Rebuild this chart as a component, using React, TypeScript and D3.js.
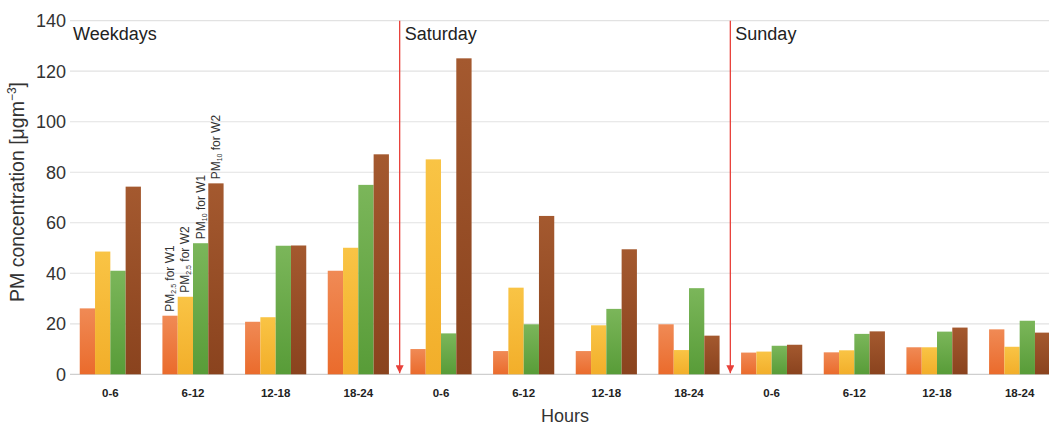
import * as d3 from 'd3'

// Hour ranges repeat for each day group
const hours = ['0-6', '6-12', '12-18', '18-24']
const days = ['Weekdays', 'Saturday', 'Sunday']

// Values per category (Weekdays 0-6 ... Sunday 18-24)
const pm25W1 = [26.1, 23.2, 20.8, 41.0, 10.0, 9.2, 9.2, 19.8, 8.6, 8.7, 10.7, 17.8]
const pm25W2 = [48.6, 30.7, 22.6, 50.1, 85.1, 34.3, 19.4, 9.6, 9.0, 9.5, 10.7, 10.9]
const pm10W1 = [41.0, 51.9, 50.9, 75.0, 16.2, 19.8, 25.9, 34.1, 11.3, 16.0, 16.9, 21.2]
const pm10W2 = [74.3, 75.6, 51.0, 87.1, 125.1, 62.7, 49.5, 15.3, 11.7, 17.0, 18.5, 16.5]

const seriesNames = ['PM2.5 for W1', 'PM2.5 for W2', 'PM10 for W1', 'PM10 for W2']
const seriesValues = [pm25W1, pm25W2, pm10W1, pm10W2]
const yTicks = [0, 20, 40, 60, 80, 100, 120, 140]

// top / bottom colours of each bar gradient
const seriesColors = [
  ['#f08a55', '#ea6b2c'],
  ['#f9c445', '#f2ae2a'],
  ['#7bb65a', '#589c38'],
  ['#a4592f', '#8a431e'],
]

const W = 1049
const H = 426
const margin = { top: 20.7, left: 69, right: -12, bottom: 51.7 }

export default function App() {
  const categories = d3.range(days.length * hours.length)
  const x = d3.scaleBand<number>()
    .domain(categories)
    .range([margin.left, W - margin.right])
    .paddingInner(0.26)
    .paddingOuter(0.13)
  const inner = d3.scaleBand<number>()
    .domain(d3.range(seriesNames.length))
    .range([0, x.bandwidth()])
  const y = d3.scaleLinear().domain([0, 140]).range([H - margin.bottom, margin.top])

  const step = x.step()
  const gap = step - x.bandwidth()
  // day separators sit in the gap after the last hour of a day
  const separators = [1, 2].map(d => x(d * hours.length - 1)! + x.bandwidth() + gap / 2)

  const font = '"Liberation Sans", Arial, sans-serif'
  const annotated = 1 // Weekdays 6-12 carries the series labels

  return (
    <svg width={W} height={H} style={{ position: 'absolute', left: 0, top: 0, background: '#fff' }} fontFamily={font}>
      <defs>
        {seriesColors.map((c, i) => (
          <linearGradient key={i} id={`grad${i}`} x1="0" y1="0" x2="0" y2="1">
            <stop offset="0%" stopColor={c[0]} />
            <stop offset="100%" stopColor={c[1]} />
          </linearGradient>
        ))}
        <marker id="arrow" viewBox="0 0 10 10" refX="10" refY="5" markerWidth="9" markerHeight="8" orient="auto" markerUnits="userSpaceOnUse">
          <path d="M0,0 L10,5 L0,10 Z" fill="#e8403a" />
        </marker>
      </defs>

      {/* grid */}
      {yTicks.map(t => (
        <g key={t}>
          <line x1={70} x2={W} y1={y(t)} y2={y(t)} stroke={t === 0 ? '#cfcfcf' : '#e2e2e2'} strokeWidth={1.2} />
          <text x={66} y={y(t)} dy="0.36em" textAnchor="end" fontSize={18} fill="#333">{t}</text>
        </g>
      ))}

      {/* bars */}
      {categories.map(c => (
        <g key={c} transform={`translate(${x(c)},0)`}>
          {seriesValues.map((vals, s) => (
            <rect key={s}
              x={inner(s)}
              y={y(vals[c])}
              width={inner.bandwidth()}
              height={y(0) - y(vals[c])}
              fill={`url(#grad${s})`} />
          ))}
        </g>
      ))}

      {/* series annotations above Weekdays 6-12 */}
      {seriesValues.map((vals, s) => {
        const cx = x(annotated)! + inner(s)! + inner.bandwidth() / 2
        const ty = y(vals[annotated]) - 4
        const sub = s < 2 ? '2.5' : '10'
        const tail = s % 2 === 0 ? ' for W1' : ' for W2'
        return (
          <text key={s} transform={`translate(${cx + 4},${ty}) rotate(-90)`} fontSize={12} fill="#333">
            PM<tspan fontSize={7} dy={2}>{sub}</tspan><tspan dy={-2}>{tail}</tspan>
          </text>
        )
      })}

      {/* day separators */}
      {separators.map((sx, i) => (
        <line key={i} x1={sx} x2={sx} y1={y(140)} y2={y(0) - 1} stroke="#e8403a" strokeWidth={1.3} markerEnd="url(#arrow)" />
      ))}

      {/* day titles */}
      {days.map((d, i) => {
        const left = i === 0 ? 73 : separators[i - 1] + 5
        return <text key={d} x={left} y={40} fontSize={18} fill="#222">{d}</text>
      })}

      {/* x tick labels */}
      {categories.map(c => (
        <text key={c} x={x(c)! + x.bandwidth() / 2} y={397} textAnchor="middle" fontSize={11.5} fontWeight="bold" fill="#222">
          {hours[c % hours.length]}
        </text>
      ))}

      <text x={565} y={422} textAnchor="middle" fontSize={18} fill="#333">Hours</text>

      <text transform={`translate(24,192) rotate(-90)`} textAnchor="middle" fontSize={19.5} fill="#333">
        PM concentration [μgm<tspan fontSize={12} dy={-8}>−3</tspan><tspan dy={8}>]</tspan>
      </text>
    </svg>
  )
}
